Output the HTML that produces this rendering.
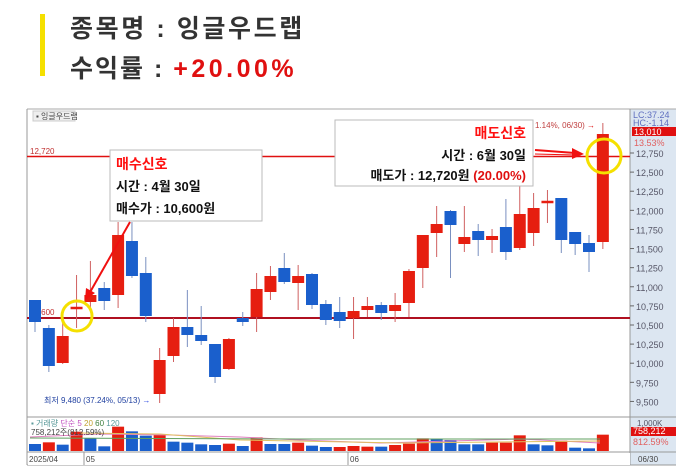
<!DOCTYPE html>
<html><head><meta charset="utf-8">
<style>
body{margin:0;background:#fff;width:700px;height:476px;overflow:hidden;font-family:"Liberation Sans","Noto Sans CJK KR",sans-serif;}
.h{position:absolute;left:70px;font-size:25px;font-weight:bold;color:#333;letter-spacing:2px;font-family:"Liberation Sans","Noto Sans CJK KR",sans-serif;white-space:nowrap;}
</style></head><body>
<div style="position:absolute;left:40px;top:14px;width:5px;height:62px;background:#f5e000"></div>
<div class="h" style="top:9px;letter-spacing:2.6px">종목명 : 잉글우드랩</div>
<div class="h" style="top:49px">수익률 : <span style="color:#e01010;letter-spacing:3.5px">+20.00%</span></div>
<svg id="s" width="700" height="476" style="position:absolute;left:0;top:0" xmlns="http://www.w3.org/2000/svg" font-family="Liberation Sans, Noto Sans CJK KR, sans-serif"></svg>
<script>
var s=document.getElementById('s');var h='';
function r(x,y,w,hh,f,st){h+='<rect x="'+x+'" y="'+y+'" width="'+w+'" height="'+hh+'" fill="'+f+'"'+(st?' stroke="'+st+'"':'')+'/>';}
function l(x1,y1,x2,y2,c,w){h+='<line x1="'+x1+'" y1="'+y1+'" x2="'+x2+'" y2="'+y2+'" stroke="'+c+'" stroke-width="'+(w||1)+'"/>';}
function t(x,y,str,sz,c,extra){h+='<text x="'+x+'" y="'+y+'" font-size="'+sz+'" fill="'+c+'" '+(extra||'')+'>'+str+'</text>';}
r(27,109,603,356,'#fff');
r(630,109,46,356,'#dce6f1');
l(27,109,676,109,'#aaa');l(27,109,27,465,'#999');l(630,109,630,465,'#999');
l(27,417,676,417,'#999');l(27,452,676,452,'#999');l(27,465,676,465,'#999');
r(28,453,602,12,'#fff');
for(var p=12750;p>=9500;p-=250){var y=153+(12750-p)*0.07644;l(630,y,634,y,'#666');t(636,y+4,(p/1000|0)+','+String(p%1000).padStart(3,'0'),9,'#556',"");}
r(632,127,44,9,'#e01010');t(634,135,'13,010',9,'#fff');
t(634,146,'13.53%',9,'#e06060');t(633,118,'LC:37.24',9,'#6070c0');t(633,126,'HC:-1.14',9,'#6070c0');
r(33,111,42,10,'#eee','#ccc');t(36,119,'▪ 잉글우드랩',8,'#444');
l(27,156.5,630,156.5,'#e01010',1.5);t(30,154,'12,720',8,'#c03030');
l(27,318,630,318,'#b01020',2);t(30,315,'10,600',8,'#c03030');
var C=[['b',300,322,300,332],['b',328,366,325,372],['r',336,363,322,364],['d',308,308,275,328],['r',295,302,261,310],['b',288,301,282,310],['r',235,295,222,308],['b',241,276,222,278],['b',273,316,257,322],['r',360,394,348,403],
['r',327,356,318,362],['b',327,335,290,347],['b',335,341,306,345],['b',344,377,344,383],['r',339,369,338,370],['b',318,322,312,326],['r',289,317,273,332],['r',276,292,266,300],['b',268,282,253,284],['r',276,283,265,310],
['b',274,305,273,309],['b',304,320,300,325],['b',312,321,297,328],['r',311,318,297,339],['r',306,310,297,317],['b',305,313,302,320],['r',305,311,293,322],['r',271,303,269,317],['r',235,268,235,288],['r',224,233,206,257],
['b',211,225,210,278],['r',237,244,206,252],['b',231,240,224,256],['r',236,240,229,253],['b',227,252,199,260],['r',214,248,183,250],['r',208,233,193,246],['d',202,202,190,223],['b',198,240,198,253],['b',232,244,232,255],
['b',243,252,235,272],['r',134,242,123,249]];
for(var i=0;i<C.length;i++){var c=C[i],x=35+13.85*i;var col=c[0]=='b'?'#1a5fcc':'#e61e10';var wc=c[0]=='b'?'#7a90c0':'#d06060';
l(x,c[3],x,c[4],wc,1);
if(c[0]=='d'){l(x-6,c[1],x+6,c[1],'#e61e10',2.5);}else r(x-6,c[1],12,c[2]-c[1],col);}
var V=[['b',312],['r',307],['b',314],['r',275],['b',294],['b',319],['r',260],['b',274],['b',287],['r',284],['b',305],['b',308],['b',313],['b',315],['r',311],['b',318],['r',292],['b',312],['b',312],['r',308],['b',317],['b',321],['r',321],['r',318],['r',320],['b',320],['r',315],['r',311],['r',295],['b',298],['b',300],['b',313],['b',313],['r',308],['r',308],['r',286],['b',313],['b',316],['r',302],['b',323],['b',325],['r',284]];
for(var i=0;i<V.length;i++){var x=35+13.85*i,y=340+V[i][1]/3;r(x-6,y,12,451-y,V[i][0]=='b'?'#1a5fcc':'#e61e10');}
h+='<polyline points="30,437 100,434 170,435 240,437 300,440 380,443 450,441 520,439 600,443" fill="none" stroke="#e080c0" stroke-width="1"/>';
h+='<polyline points="80,433 160,434 200,437 240,440 400,443 600,441" fill="none" stroke="#e0c060" stroke-width="1"/>';
h+='<polyline points="30,438 300,439 600,439" fill="none" stroke="#60a060" stroke-width="1"/>';
t(31,426,'▪ 거래량 <tspan fill="#c050c0">단순 5</tspan> <tspan fill="#c0a030">20</tspan> <tspan fill="#408040">60</tspan> 120',8,'#5a9a9a');
t(31,435,'758,212주(812.59%)',8,'#444');
r(631,427,45,9,'#e01010');t(633,434,'758,212',9,'#fff');t(633,445,'812.59%',9,'#e06060');t(637,426,'1,000K',8,'#556');
l(84,452,84,465,'#999');l(348,452,348,465,'#999');
t(29,462,'2025/04',8,'#444');t(86,462,'05',8,'#444');t(350,462,'06',8,'#444');t(638,462,'06/30',8,'#444');
t(44,403,'최저 9,480 (37.24%, 05/13) <tspan fill="#2040e0">→</tspan>',8,'#2040a0');
t(535,128,'1.14%, 06/30) <tspan fill="#e01010">→</tspan>',8,'#c04040');
r(110,150,152,71,'#fff','#bbb');
t(116,169,'매수신호',14,'#ff1010','font-weight="bold"');
t(116,191,'시간 : 4월 30일',13,'#111','font-weight="bold"');
t(116,213,'매수가 : 10,600원',13,'#111','font-weight="bold"');
r(335,120,198,66,'#fff','#bbb');
t(526,138,'매도신호',14,'#ff1010','font-weight="bold" text-anchor="end"');
t(526,160,'시간 : 6월 30일',13,'#111','font-weight="bold" text-anchor="end"');
t(526,180,'매도가 : 12,720원 <tspan fill="#e01010">(20.00%)</tspan>',13,'#111','font-weight="bold" text-anchor="end"');
l(130,222,89,294,'#f01010',2);h+='<polygon points="85,300 86,288 95,293" fill="#f01010"/>';
l(535,150,575,153,'#f01010',2);l(535,154,575,155,'#f01010',1);h+='<polygon points="584,154 572,148 572,159" fill="#f01010"/>';
h+='<circle cx="77" cy="316" r="15" fill="none" stroke="#f5e000" stroke-width="3"/>';
h+='<circle cx="604" cy="156" r="17" fill="none" stroke="#f5e000" stroke-width="3"/>';
s.innerHTML=h;
</script>
</body></html>
